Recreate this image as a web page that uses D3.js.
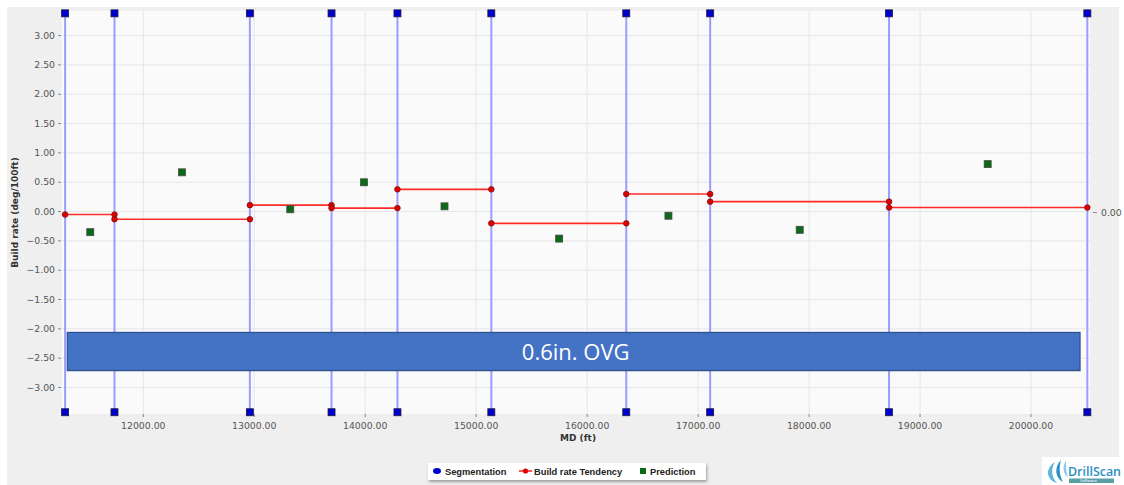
<!DOCTYPE html>
<html>
<head>
<meta charset="utf-8">
<script src="https://cdn.jsdelivr.net/npm/d3@7/dist/d3.min.js"></script>
<style>
  html, body { margin: 0; padding: 0; background: #fff; }
  svg { display: block; }
</style>
</head>
<body>
<svg id="chart" width="1124" height="485"></svg>
<script>
// Segment boundaries along measured depth (ft)
const segmentMD = [11300, 11745, 12965, 13701, 14295, 15141, 16357, 17113, 18725, 20512];
// Build rate tendency for each segment (deg/100ft), one value per interval
const tendency = [-0.06, -0.14, 0.10, 0.05, 0.37, -0.21, 0.29, 0.16, 0.06];
// Predicted build rate points
const predictionMD = [11527, 12353, 13329, 13993, 14719, 15752, 16737, 17920, 19614];
const predictionValue = [-0.36, 0.66, 0.03, 0.49, 0.08, -0.47, -0.08, -0.32, 0.80];
// Axis ticks
const xTicks = [12000, 13000, 14000, 15000, 16000, 17000, 18000, 19000, 20000];
const yTicks = [3, 2.5, 2, 1.5, 1, 0.5, 0, -0.5, -1, -1.5, -2, -2.5, -3];
const rightTicks = [0];
// Segmentation marker levels (top and bottom of the plot)
const segmentLevels = [3.37, -3.43];
// Tool annotation band
const bandMD = [11320, 20446];
const bandRange = [-2.07, -2.72];
const bandLabel = "0.6in. OVG";
const legendItems = ["Segmentation", "Build rate Tendency", "Prediction"];

const svg = d3.select("#chart");
const W = 1124, H = 485;
const plot = { left: 62, right: 1090, top: 11, bottom: 414 };

const x = d3.scaleLinear().domain([11272, 20536]).range([plot.left, plot.right]);
const y = d3.scaleLinear().domain([-3.46, 3.41]).range([plot.bottom, plot.top]);

// Panel background
svg.append("rect").attr("x", 0).attr("y", 0).attr("width", W).attr("height", H).attr("fill", "#fff");
svg.append("rect").attr("x", 7).attr("y", 7).attr("width", 1112).attr("height", 478).attr("fill", "#efefef");
svg.append("rect").attr("x", plot.left).attr("y", plot.top)
  .attr("width", plot.right - plot.left).attr("height", plot.bottom - plot.top)
  .attr("fill", "#fafafa");

// Grid lines
const grid = svg.append("g");
grid.selectAll("line.h").data(yTicks).join("line")
  .attr("x1", plot.left).attr("x2", plot.right)
  .attr("y1", d => y(d) + 0.5).attr("y2", d => y(d) + 0.5)
  .attr("stroke", "#e6e6e6").attr("stroke-width", 1);
grid.selectAll("line.v").data(xTicks).join("line")
  .attr("y1", plot.top).attr("y2", plot.bottom)
  .attr("x1", d => x(d) + 0.5).attr("x2", d => x(d) + 0.5)
  .attr("stroke", "#e6e6e6").attr("stroke-width", 1);

// Axes
const tickFont = "DejaVu Sans, Verdana, sans-serif";
const yAxis = svg.append("g").attr("transform", `translate(${plot.left - 1},0)`)
  .call(d3.axisLeft(y).tickValues(yTicks).tickFormat(d3.format(".2f")).tickSize(3).tickPadding(3));
const xAxis = svg.append("g").attr("transform", `translate(0,${plot.bottom})`)
  .call(d3.axisBottom(x).tickValues(xTicks).tickFormat(d3.format(".2f")).tickSize(3).tickPadding(5));
const rAxis = svg.append("g").attr("transform", `translate(${plot.right + 3},0)`)
  .call(d3.axisRight(y).tickValues(rightTicks).tickFormat(d3.format(".2f")).tickSize(4).tickPadding(4));
[yAxis, xAxis, rAxis].forEach(a => {
  a.select(".domain").remove();
  a.selectAll(".tick line").attr("stroke", "#888");
  a.selectAll(".tick text").attr("fill", "#555").style("font-family", tickFont).style("font-size", "9.3px");
});
rAxis.selectAll(".tick").attr("transform", d => `translate(0,${y(d) + 1.5})`);

// Axis titles
svg.append("text")
  .attr("transform", `translate(18,${(plot.top + plot.bottom) / 2}) rotate(-90)`)
  .attr("text-anchor", "middle")
  .style("font-family", tickFont).style("font-size", "9px").style("font-weight", "bold")
  .attr("fill", "#333").text("Build rate (deg/100ft)");
svg.append("text")
  .attr("x", (plot.left + plot.right) / 2 + 2).attr("y", 441)
  .attr("text-anchor", "middle")
  .style("font-family", tickFont).style("font-size", "9px").style("font-weight", "bold")
  .attr("fill", "#333").text("MD (ft)");

// Segmentation lines
svg.append("g").selectAll("line").data(segmentMD).join("line")
  .attr("x1", d => x(d)).attr("x2", d => x(d))
  .attr("y1", y(segmentLevels[0])).attr("y2", y(segmentLevels[1]))
  .attr("stroke", "#9c9cff").attr("stroke-width", 2);

// Build rate tendency steps
const steps = tendency.map((v, i) => ({ x0: segmentMD[i], x1: segmentMD[i + 1], v }));
const tg = svg.append("g");
tg.selectAll("line").data(steps).join("line")
  .attr("x1", d => x(d.x0)).attr("x2", d => x(d.x1))
  .attr("y1", d => y(d.v)).attr("y2", d => y(d.v))
  .attr("stroke", "#ff2a2a").attr("stroke-width", 1.6);
const tendPts = steps.flatMap(d => [{ md: d.x0, v: d.v }, { md: d.x1, v: d.v }]);
tg.selectAll("circle").data(tendPts).join("circle")
  .attr("cx", d => x(d.md)).attr("cy", d => y(d.v)).attr("r", 2.8)
  .attr("fill", "#e00000").attr("stroke", "#7a1010").attr("stroke-width", 0.8);

// Segmentation markers
const segPts = segmentMD.flatMap(md => segmentLevels.map(v => ({ md, v })));
svg.append("g").selectAll("rect").data(segPts).join("rect")
  .attr("x", d => x(d.md) - 3.5).attr("y", d => y(d.v) - 3.5)
  .attr("width", 7).attr("height", 7)
  .attr("fill", "#0000cc").attr("stroke", "#1a1a4a").attr("stroke-width", 0.8);

// Prediction points
svg.append("g").selectAll("rect").data(predictionMD.map((md, i) => ({ md, v: predictionValue[i] })))
  .join("rect")
  .attr("x", d => x(d.md) - 3.5).attr("y", d => y(d.v) - 3.5)
  .attr("width", 7).attr("height", 7)
  .attr("fill", "#0b6a14").attr("stroke", "#4a4a4a").attr("stroke-width", 0.8);

// Tool annotation band
svg.append("rect")
  .attr("x", x(bandMD[0])).attr("y", y(bandRange[0]))
  .attr("width", x(bandMD[1]) - x(bandMD[0])).attr("height", y(bandRange[1]) - y(bandRange[0]))
  .attr("fill", "#4472c4").attr("stroke", "#2f528f").attr("stroke-width", 1.3);
svg.append("text")
  .attr("x", (x(bandMD[0]) + x(bandMD[1])) / 2 + 2)
  .attr("y", (y(bandRange[0]) + y(bandRange[1])) / 2 + 8)
  .attr("text-anchor", "middle")
  .style("font-family", "Open Sans, sans-serif").style("font-size", "22px")
  .attr("fill", "#fff").text(bandLabel);

// Legend
const defs = svg.append("defs");
const f = defs.append("filter").attr("id", "shadow").attr("x", "-10%").attr("y", "-30%").attr("width", "120%").attr("height", "180%");
f.append("feDropShadow").attr("dx", 1).attr("dy", 2).attr("stdDeviation", 1.5).attr("flood-color", "#000").attr("flood-opacity", 0.35);
const lg = svg.append("g");
lg.append("rect").attr("x", 428).attr("y", 463).attr("width", 278).attr("height", 17)
  .attr("fill", "#fff").attr("filter", "url(#shadow)");
const lgFont = "Liberation Sans, Arial, sans-serif";
lg.append("ellipse").attr("cx", 437).attr("cy", 471).attr("rx", 4).attr("ry", 3).attr("fill", "#0000cc");
lg.append("line").attr("x1", 519).attr("x2", 532).attr("y1", 471).attr("y2", 471).attr("stroke", "#ff2a2a").attr("stroke-width", 1.6);
lg.append("circle").attr("cx", 525.5).attr("cy", 471).attr("r", 2.6).attr("fill", "#e00000");
lg.append("rect").attr("x", 640).attr("y", 468).attr("width", 6).attr("height", 6).attr("fill", "#0b6a14");
const lgX = [445, 534, 650];
lg.selectAll("text").data(legendItems).join("text")
  .attr("x", (d, i) => lgX[i]).attr("y", 475)
  .style("font-family", lgFont).style("font-size", "9.3px").style("font-weight", "bold")
  .attr("fill", "#222").text(d => d);

// Logo
const logo = svg.append("g");
logo.append("rect").attr("x", 1042).attr("y", 457).attr("width", 82).attr("height", 28).attr("fill", "#fff");
logo.append("path").attr("d", "M1055,462 C1045,468 1046,480 1057,483 C1051,477 1051,468 1055,462 Z").attr("fill", "#5fb4dc");
logo.append("path").attr("d", "M1061,460 C1054,467 1055,478 1063,482 C1059,475 1059,467 1061,460 Z").attr("fill", "#2b8ec4");
logo.append("path").attr("d", "M1066,461 C1062,466 1063,474 1068,477 C1066,472 1066,466 1066,461 Z").attr("fill", "#8ccbe8");
logo.append("text").attr("x", 1068).attr("y", 476)
  .attr("textLength", 53).attr("lengthAdjust", "spacingAndGlyphs")
  .style("font-family", "Open Sans, sans-serif").style("font-size", "13px").style("font-weight", "600")
  .attr("fill", "#2b8ec4").text("DrillScan");
logo.append("rect").attr("x", 1069).attr("y", 478.5).attr("width", 45).attr("height", 4.5).attr("fill", "#5a9fa8");
logo.append("text").attr("x", 1080).attr("y", 482.4)
  .style("font-family", "DejaVu Sans, sans-serif").style("font-size", "3.8px")
  .attr("fill", "#fff").text("Software");
</script>
</body>
</html>
